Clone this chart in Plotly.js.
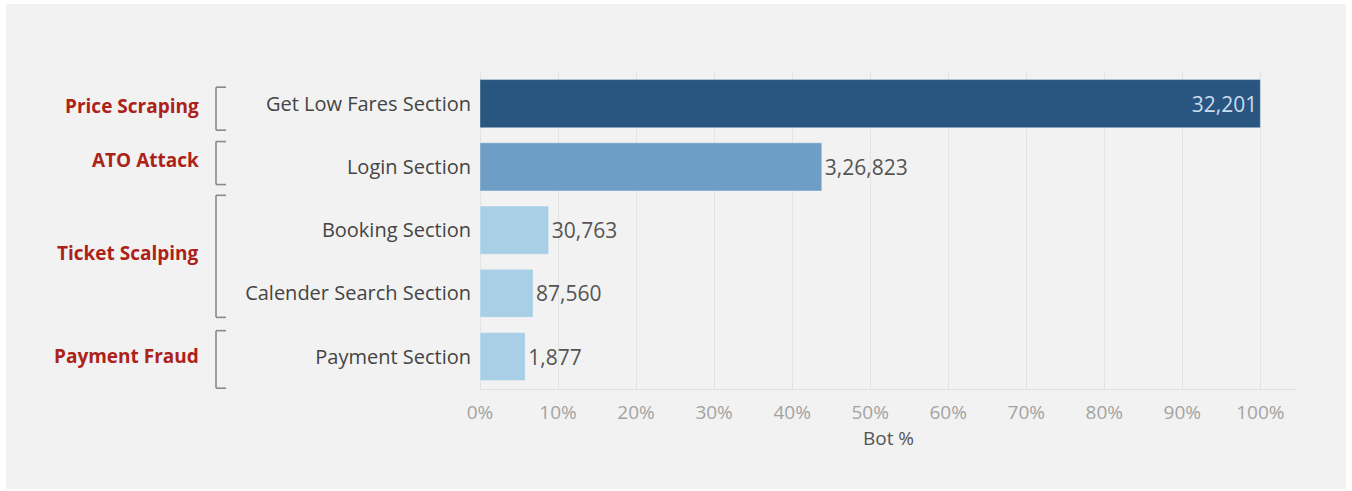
<!DOCTYPE html>
<html>
<head>
<meta charset="utf-8">
<script src="https://cdn.plot.ly/plotly-3.0.1.min.js"></script>
<style>
  html, body { margin: 0; padding: 0; background: #ffffff; width: 1352px; height: 491px; overflow: hidden; }
  #chart { position: absolute; left: 6px; top: 4px; width: 1340px; height: 485px; }
</style>
</head>
<body>
<div id="chart"></div>
<script>
// ---- Data ----
const categories = ['Get Low Fares Section', 'Login Section', 'Booking Section', 'Calender Search Section', 'Payment Section'];
const botPct = [100, 43.8, 8.8, 6.8, 5.8];
const countLabels = ['32,201', '3,26,823', '30,763', '87,560', '1,877'];
const barColors = ['#295581', '#6e9ec6', '#a9cfe6', '#a9cfe6', '#a9cfe6'];
const groupNames = ['Price Scraping', 'ATO Attack', 'Ticket Scalping', 'Payment Fraud'];
const groupMembers = [
  ['Get Low Fares Section'],
  ['Login Section'],
  ['Booking Section', 'Calender Search Section'],
  ['Payment Section']
];
const xTickVals = [0, 10, 20, 30, 40, 50, 60, 70, 80, 90, 100];

// ---- Chart ----
const FONT = 'Open Sans, Lato, DejaVu Sans, sans-serif';

const trace = {
  type: 'bar',
  orientation: 'h',
  y: categories,
  x: botPct,
  text: countLabels,
  textposition: botPct.map(v => v >= 90 ? 'inside' : 'outside'),
  insidetextanchor: 'end',
  insidetextfont: { family: FONT, size: 21, color: '#c9dced' },
  outsidetextfont: { family: FONT, size: 21, color: '#555555' },
  cliponaxis: false,
  width: 0.76,
  marker: { color: barColors, line: { color: 'rgba(255,255,255,0.35)', width: 1 } },
  hoverinfo: 'y+x'
};

// bracket extents (category-index units) per group
const bracketPad = [[-0.26, 0.42], [-0.40, 0.28], [-0.55, 0.38], [-0.41, 0.50]];

const shapes = [];
const annotations = [];
groupMembers.forEach((members, g) => {
  const i0 = categories.indexOf(members[0]);
  const i1 = categories.indexOf(members[members.length - 1]);
  const top = i0 + bracketPad[g][0];
  const bot = i1 + bracketPad[g][1];
  const lineStyle = { color: '#8a8a8a', width: 1.6 };
  const common = { type: 'line', xref: 'paper', xsizemode: 'pixel', xanchor: 0, yref: 'y', line: lineStyle, layer: 'above' };
  shapes.push(Object.assign({}, common, { x0: -264, x1: -264, y0: top, y1: bot }));
  shapes.push(Object.assign({}, common, { x0: -264, x1: -254, y0: top, y1: top }));
  shapes.push(Object.assign({}, common, { x0: -264, x1: -254, y0: bot, y1: bot }));
  annotations.push({
    xref: 'paper', x: 0, xshift: -279, xanchor: 'right',
    yref: 'y', y: (top + bot) / 2, yshift: 3, yanchor: 'middle',
    text: groupNames[g], showarrow: false,
    font: { family: FONT, size: 19, color: '#ad2218', weight: 'bold' }
  });
});

const layout = {
  width: 1340,
  height: 485,
  margin: { l: 474, r: 49, t: 68, b: 100, pad: 0 },
  paper_bgcolor: '#f2f2f2',
  plot_bgcolor: '#f2f2f2',
  showlegend: false,
  bargap: 0.24,
  xaxis: {
    range: [0, 104.7],
    tickvals: xTickVals,
    ticktext: xTickVals.map(v => v + '%'),
    tickfont: { family: FONT, size: 19, color: '#a3a3a3' },
    showgrid: true,
    gridcolor: '#e3e3e3',
    gridwidth: 1,
    zeroline: true,
    zerolinecolor: '#e3e3e3',
    showline: true,
    linecolor: '#e0e0e0',
    linewidth: 1,
    ticks: 'outside',
    ticklen: 6,
    tickcolor: 'rgba(0,0,0,0)',
    fixedrange: true,
    title: { text: 'Bot %', font: { family: FONT, size: 19, color: '#555555' }, standoff: 6 }
  },
  yaxis: {
    type: 'category',
    autorange: 'reversed',
    tickfont: { family: FONT, size: 20, color: '#444444' },
    showgrid: false,
    zeroline: false,
    showline: false,
    ticks: 'outside',
    ticklen: 4,
    tickcolor: 'rgba(0,0,0,0)',
    fixedrange: true
  },
  shapes: shapes,
  annotations: annotations
};

Plotly.newPlot('chart', [trace], layout, { displayModeBar: false, staticPlot: true });
</script>
</body>
</html>
